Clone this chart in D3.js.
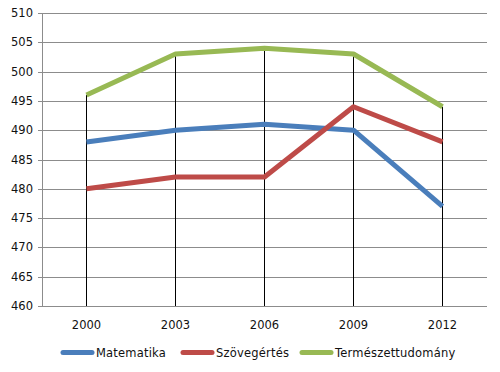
<!DOCTYPE html>
<html><head><meta charset="utf-8">
<script src="https://cdn.jsdelivr.net/npm/d3@7"></script>
<style>body{margin:0;background:#fff;}svg{display:block;}</style>
</head><body>
<svg id="c" width="500" height="372"></svg>
<script>
const years = ["2000","2003","2006","2009","2012"];
const matematika = [488, 490, 491, 490, 477];
const szovegertes = [480, 482, 482, 494, 488];
const termeszet = [496, 503, 504, 503, 494];
const yTicks = [460,465,470,475,480,485,490,495,500,505,510];
const seriesNames = ["Matematika","Szövegértés","Természettudomány"];
const seriesColors = ["#4a7ebb","#be4b48","#98b954"];
const seriesData = [matematika, szovegertes, termeszet];

(function(){
const svg = d3.select("#c");
const pl = 42, pr = 487, pt = 13, pb = 306;
const x = d3.scaleBand().domain(years).range([pl, pr]);
const y = d3.scaleLinear().domain([460, 510]).range([pb, pt]);
const font = "DejaVu Sans, Verdana, sans-serif";
const cx = d => Math.floor(x(d) + x.bandwidth()/2) + 0.5;

// gridlines
svg.append("g").selectAll("line").data(yTicks).join("line")
  .attr("x1", pl - 4).attr("x2", pr)
  .attr("y1", d => Math.round(y(d)) + 0.5).attr("y2", d => Math.round(y(d)) + 0.5)
  .attr("stroke", "#8c8c8c").attr("stroke-width", 1);
// y axis line
svg.append("line").attr("x1", pl + 0.5).attr("x2", pl + 0.5)
  .attr("y1", pt).attr("y2", pb).attr("stroke", "#8c8c8c");
// y labels
svg.append("g").selectAll("text").data(yTicks).join("text")
  .attr("x", 33).attr("y", d => y(d) + 4)
  .attr("text-anchor", "end").attr("font-family", font).attr("font-size", 11.5)
  .attr("fill", "#111").text(d => d);
// x labels
svg.append("g").selectAll("text").data(years).join("text")
  .attr("x", d => cx(d)).attr("y", 329)
  .attr("text-anchor", "middle").attr("font-family", font).attr("font-size", 11.5)
  .attr("fill", "#111").text(d => d);

// drop lines
const maxVals = years.map((d,i) => d3.max(seriesData, s => s[i]));
svg.append("g").selectAll("line").data(years).join("line")
  .attr("x1", d => cx(d)).attr("x2", d => cx(d))
  .attr("y1", (d,i) => y(maxVals[i])).attr("y2", pb)
  .attr("stroke", "#000").attr("stroke-width", 1);

// series lines
const line = d3.line().x((d,i) => cx(years[i])).y(d => y(d));
seriesData.forEach((s, k) => {
  svg.append("path").datum(s).attr("d", line)
    .attr("fill", "none").attr("stroke", seriesColors[k])
    .attr("stroke-width", 5).attr("stroke-linejoin", "round");
});

// legend
const legendX = [63, 183, 302];
seriesNames.forEach((n, k) => {
  svg.append("line").attr("x1", legendX[k]).attr("x2", legendX[k] + 29)
    .attr("y1", 352.5).attr("y2", 352.5)
    .attr("stroke", seriesColors[k]).attr("stroke-width", 5).attr("stroke-linecap", "round");
  svg.append("text").attr("x", legendX[k] + 33).attr("y", 356.5)
    .attr("font-family", font).attr("font-size", 11.5).attr("fill", "#111")
    .attr("letter-spacing", 0.2).text(n);
});
})();
</script>
</body></html>
